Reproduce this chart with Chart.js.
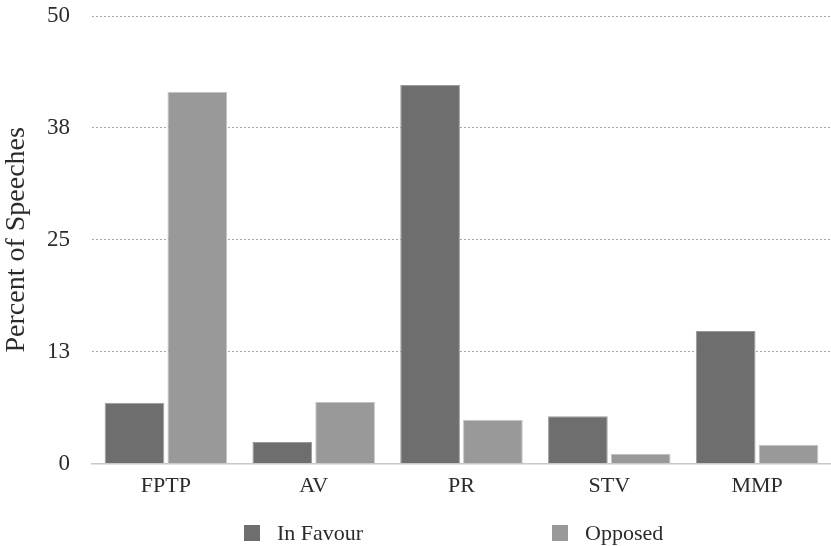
<!DOCTYPE html>
<html>
<head>
<meta charset="utf-8">
<script src="https://cdn.jsdelivr.net/npm/chart.js@4/dist/chart.umd.min.js"></script>
<style>
  html, body { margin: 0; padding: 0; background: #fff; }
  #wrap { width: 831px; height: 546px; }
</style>
</head>
<body>
<div id="wrap"><canvas id="speeches" width="831" height="546"></canvas></div>
<script>
const systems = ['FPTP', 'AV', 'PR', 'STV', 'MMP'];
const inFavour = [6.8, 2.4, 42.3, 5.3, 14.8];
const opposed = [41.5, 6.9, 4.9, 1.1, 2.1];
const yTicks = ['0', '13', '25', '38', '50'];

const serif = 'Liberation Serif';
const ink = '#2b2b2b';

// wide-spaced legend under the plot (built-in legend pads vertically too)
const spreadLegend = {
  id: 'spreadLegend',
  afterDraw(chart, args, opts) {
    const c = chart.ctx;
    c.save();
    c.font = '22px "' + serif + '"';
    c.textBaseline = 'middle';
    c.textAlign = 'left';
    chart.data.datasets.forEach((ds, i) => {
      const x = opts.starts[i];
      c.fillStyle = ds.backgroundColor;
      c.fillRect(x, opts.y - 8, 16, 16);
      c.fillStyle = ink;
      c.fillText(ds.label, x + 33, opts.y + 1);
    });
    c.restore();
  }
};

const ctx = document.getElementById('speeches').getContext('2d');
new Chart(ctx, {
  type: 'bar',
  data: {
    labels: systems,
    datasets: [{
      label: 'In Favour',
      data: inFavour,
      backgroundColor: '#6e6e6e',
      borderColor: '#9a9a9a',
      borderWidth: 1
    }, {
      label: 'Opposed',
      data: opposed,
      backgroundColor: '#999999',
      borderColor: '#c4c4c4',
      borderWidth: 1
    }]
  },
  options: {
    responsive: false,
    animation: false,
    categoryPercentage: 0.85,
    barPercentage: 0.95,
    layout: { padding: { top: 16, right: 0, bottom: 38, left: 0 } },
    plugins: {
      tooltip: { enabled: false },
      legend: { display: false },
      spreadLegend: { starts: [244, 552], y: 533 }
    },
    scales: {
      x: {
        grid: { display: false, drawTicks: false },
        border: { display: true, color: '#c8c8c8', width: 1.5 },
        ticks: { color: ink, padding: 9, font: { family: serif, size: 22 } }
      },
      y: {
        min: 0,
        max: 50,
        afterFit(scale) {
          scale.width = 92;
          scale.paddingTop = 0;
          scale.paddingBottom = 0;
        },
        afterBuildTicks(scale) {
          scale.ticks = yTicks.map((t, i) => ({ value: i * 12.5 }));
        },
        grid: {
          color: '#a8a8a8',
          lineWidth: 1,
          drawTicks: false
        },
        border: { display: false, dash: [2, 2] },
        ticks: {
          color: ink,
          padding: 22,
          font: { family: serif, size: 23 },
          callback: (v, i) => yTicks[i]
        },
        title: {
          display: true,
          text: 'Percent of Speeches',
          color: ink,
          padding: { top: 0, bottom: 2 },
          font: { family: serif, size: 28 }
        }
      }
    }
  },
  plugins: [spreadLegend]
});
</script>
</body>
</html>
